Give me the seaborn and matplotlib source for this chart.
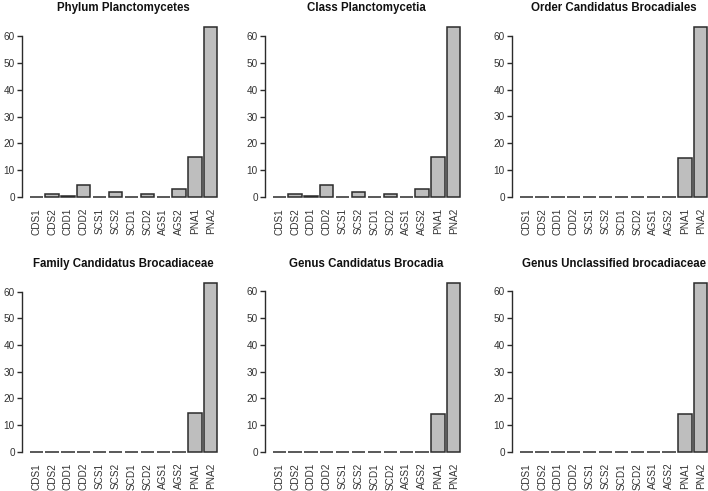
import seaborn as sns
import pandas as pd
import numpy as np
import matplotlib.pyplot as plt

# samples on the x axis
samples = ['CDS1', 'CDS2', 'CDD1', 'CDD2', 'SCS1', 'SCS2',
           'SCD1', 'SCD2', 'AGS1', 'AGS2', 'PNA1', 'PNA2']

# relative abundance (%)
phylum_planctomycetes = [0.1, 1.3, 0.3, 4.5, 0.1, 2.0, 0.1, 1.3, 0.1, 2.8, 14.8, 63.3]
class_planctomycetia = [0.1, 1.3, 0.3, 4.5, 0.1, 2.0, 0.1, 1.3, 0.1, 2.8, 14.8, 63.3]
order_brocadiales = [0, 0, 0, 0, 0, 0, 0, 0, 0, 0, 14.7, 63.2]
family_brocadiaceae = [0, 0, 0, 0, 0, 0, 0, 0, 0, 0, 14.6, 63.1]
genus_brocadia = [0, 0, 0, 0, 0, 0, 0, 0, 0, 0, 14.2, 63.0]
genus_unclassified = [0, 0, 0, 0, 0, 0, 0, 0, 0, 0, 14.2, 63.0]

titles = ['Phylum Planctomycetes', 'Class Planctomycetia',
          'Order Candidatus Brocadiales', 'Family Candidatus Brocadiaceae',
          'Genus Candidatus Brocadia', 'Genus Unclassified brocadiaceae']
series = [phylum_planctomycetes, class_planctomycetia, order_brocadiales,
          family_brocadiaceae, genus_brocadia, genus_unclassified]

sns.set_style('white')
plt.rcParams['font.family'] = ['Liberation Sans', 'DejaVu Sans']

W, H = 708, 491
fig = plt.figure(figsize=(W / 100, H / 100), dpi=100)

# axes boxes in pixels: left, top, width, height
lefts = [22, 265, 512]
tops = [20.4, 276.5]
heights = [183.4, 182.2]
width = 203

for k in range(6):
    r, c = divmod(k, 3)
    ax = fig.add_axes([lefts[c] / W, 1 - (tops[r] + heights[r]) / H,
                       width / W, heights[r] / H])
    df = pd.DataFrame({'sample': samples, 'value': series[k]})
    sns.barplot(data=df, x='sample', y='value', ax=ax, color='#BEBEBE',
                saturation=1, width=1 / 1.2, edgecolor='#2b2b2b',
                linewidth=1.1, errorbar=None)
    ymax = max(series[k])
    ax.set_ylim(-0.04 * ymax, 1.04 * ymax)
    ax.set_xlim(-0.89, 11.89)
    ax.set_yticks(np.arange(0, 61, 10))
    ax.set_xlabel('')
    ax.set_ylabel('')
    for s in ['top', 'right', 'bottom']:
        ax.spines[s].set_visible(False)
    ax.spines['left'].set_bounds(0, 60)
    ax.spines['left'].set_color('#2b2b2b')
    ax.spines['left'].set_linewidth(1.0)
    ax.tick_params(axis='x', length=0, pad=3, labelsize=7.2,
                   labelrotation=90, colors='#333333')
    ax.tick_params(axis='y', direction='out', length=3.6, width=1.0,
                   pad=1.5, labelsize=7.2, colors='#333333', left=True)
    ax.tick_params(axis='y', color='#2b2b2b')
    ax.set_title(titles[k], fontsize=8.3, fontweight='bold', pad=7,
                 color='#111111')

fig.savefig('out.png', dpi=100)
